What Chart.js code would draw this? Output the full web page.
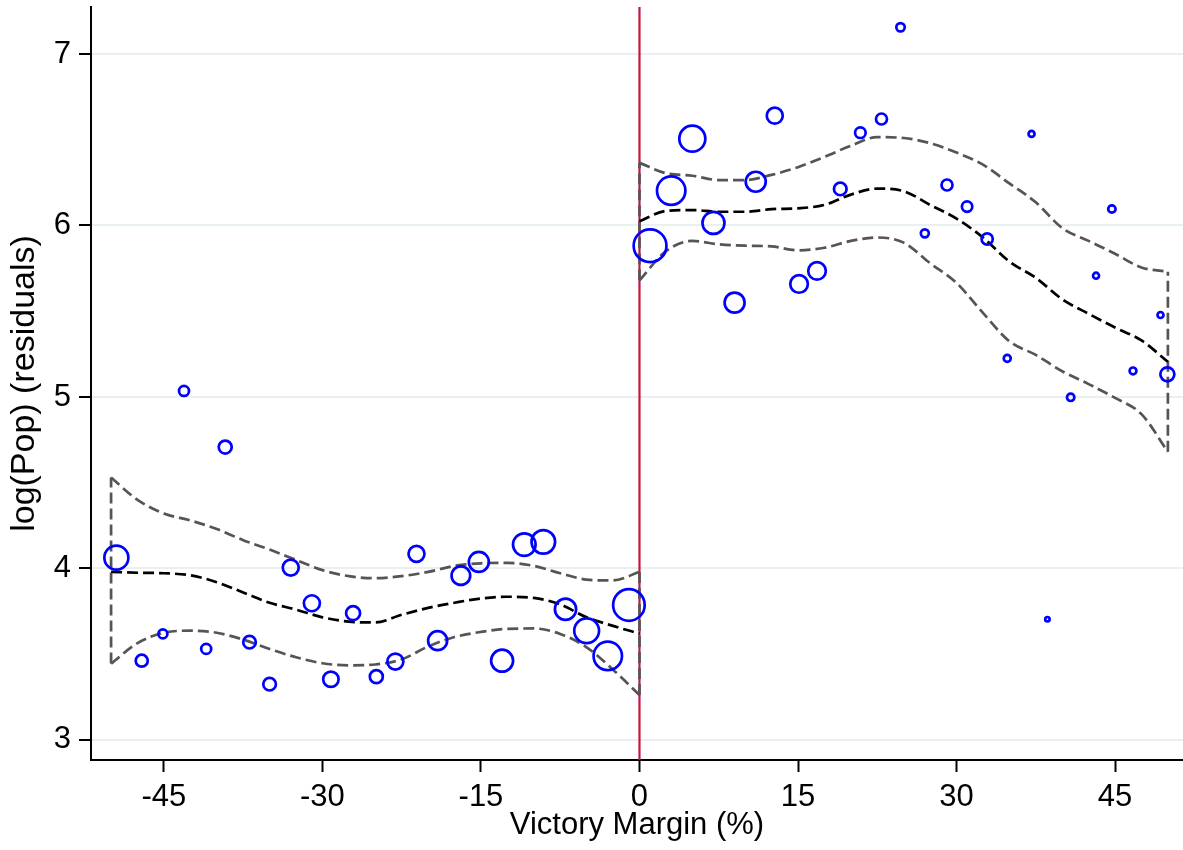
<!DOCTYPE html>
<html>
<head>
<meta charset="utf-8">
<script src="https://cdn.jsdelivr.net/npm/chart.js@4.4.1/dist/chart.umd.min.js"></script>
<style>
  html, body { margin: 0; padding: 0; background: #fff; }
  canvas { display: block; }
</style>
</head>
<body>
<canvas id="rdplot" width="1183" height="850"></canvas>
<script>
// binned means: victory margin (%), log(Pop) residual, marker radius (bin weight)
const binX = [-49.5, -47.1, -45.1, -43.1, -41.0, -39.2, -36.9, -35.0, -33.0, -31.0,
  -29.2, -27.1, -24.9, -23.1, -21.1, -19.1, -16.9, -15.2, -13.0, -10.9,
  -9.1, -7.0, -5.0, -3.0, -1.0,
  1.0, 3.0, 5.0, 7.0, 9.0, 11.0, 12.8, 15.1, 16.8, 19.0,
  20.9, 22.9, 24.7, 27.0, 29.1, 31.0, 32.9, 34.8, 37.1, 38.6,
  40.8, 43.2, 44.7, 46.7, 49.3, 49.95];
const binY = [4.063, 3.462, 3.618, 5.035, 3.531, 4.708, 3.570, 3.325, 4.005, 3.797,
  3.354, 3.739, 3.369, 3.457, 4.085, 3.579, 3.958, 4.038, 3.462, 4.139,
  4.155, 3.762, 3.637, 3.490, 3.787,
  5.882, 6.203, 6.506, 6.015, 5.550, 6.255, 6.640, 5.659, 5.735, 6.213,
  6.541, 6.621, 7.156, 5.954, 6.236, 6.110, 5.921, 5.225, 6.534, 3.704,
  4.998, 5.707, 6.096, 5.152, 5.478, 5.132];
const binR = [12, 6, 4.5, 5, 5, 6.5, 6.3, 6.3, 8, 8,
  7.7, 7, 6.5, 8, 8, 9.5, 9.3, 10, 11, 11.3,
  11.8, 10.6, 12.4, 14.2, 15.8,
  16.4, 14.2, 13, 11, 10, 10, 8, 8.8, 8.8, 6.3,
  5.3, 5.5, 4.2, 4, 5.5, 5.2, 5.6, 3.5, 3, 2.2,
  3.7, 3, 3.7, 3.4, 3, 7];

// local fit with 95% band, left of the cutoff
const leftX = [-50, -47.5, -45, -42.5, -40, -37.5, -35, -32.5, -30, -27.5, -25,
  -22.5, -20, -17.5, -15, -12.5, -10, -7.5, -5, -2.5, 0];
const leftFit = [3.98, 3.975, 3.972, 3.96, 3.92, 3.86, 3.80, 3.76, 3.715, 3.69, 3.685,
  3.73, 3.77, 3.80, 3.825, 3.835, 3.828, 3.79, 3.715, 3.665, 3.62];
const leftHi = [4.53, 4.40, 4.32, 4.28, 4.23, 4.165, 4.11, 4.05, 3.99, 3.955, 3.943,
  3.955, 3.98, 4.015, 4.03, 4.033, 4.015, 3.972, 3.935, 3.93, 3.98];
const leftLo = [3.445, 3.565, 3.625, 3.637, 3.625, 3.585, 3.53, 3.482, 3.447, 3.435, 3.44,
  3.47, 3.545, 3.60, 3.63, 3.648, 3.65, 3.618, 3.54, 3.41, 3.262];

// right of the cutoff
const rightX = [0, 2.5, 5, 7.5, 10, 12.5, 15, 17.5, 20, 22.5, 25,
  27.5, 30, 32.5, 35, 37.5, 40, 42.5, 45, 47.5, 50];
const rightFit = [6.025, 6.085, 6.09, 6.08, 6.08, 6.095, 6.10, 6.12, 6.18, 6.215, 6.20,
  6.12, 6.04, 5.93, 5.79, 5.695, 5.57, 5.485, 5.405, 5.33, 5.205];
const rightHi = [6.365, 6.305, 6.29, 6.265, 6.265, 6.295, 6.34, 6.40, 6.465, 6.515, 6.51,
  6.48, 6.425, 6.355, 6.245, 6.135, 5.985, 5.91, 5.835, 5.755, 5.73];
const rightLo = [5.68, 5.85, 5.91, 5.89, 5.882, 5.878, 5.855, 5.87, 5.91, 5.93, 5.90,
  5.78, 5.665, 5.49, 5.325, 5.245, 5.15, 5.075, 4.995, 4.90, 4.68];

const xTicks = [-45, -30, -15, 0, 15, 30, 45];
const yTicks = [3, 4, 5, 6, 7];
const cutoff = 0;
const xRange = [-51.9, 51.43];
const yRange = [2.883, 7.274];

const FONT = 'Liberation Sans, Arial, Helvetica, sans-serif';

const pts = (xs, ys) => xs.map((x, i) => ({ x: x, y: ys[i] }));
const edge = (x, a, b) => [{ x: x, y: a }, { x: x, y: b }];
const last = a => a[a.length - 1];

const dashed = (data, color, order, smooth) => ({
  data: data,
  showLine: true,
  pointRadius: 0,
  borderColor: color,
  borderWidth: 2.7,
  borderDash: [11, 5],
  cubicInterpolationMode: smooth ? 'monotone' : 'default',
  fill: false,
  order: order,
});

const ciColor = '#555555';

const datasets = [
  {
    type: 'bubble',
    data: binX.map((x, i) => ({ x: x, y: binY[i], r: binR[i] })),
    backgroundColor: 'rgba(0,0,0,0)',
    borderColor: '#0000ff',
    borderWidth: 2.7,
    order: 0,
  },
  dashed(pts(leftX, leftFit), '#000000', 3, true),
  dashed(pts(rightX, rightFit), '#000000', 3, true),
  dashed(pts(leftX, leftHi), ciColor, 4, true),
  dashed(pts(leftX, leftLo), ciColor, 4, true),
  dashed(pts(rightX, rightHi), ciColor, 4, true),
  dashed(pts(rightX, rightLo), ciColor, 4, true),
  dashed(edge(leftX[0], leftLo[0], leftHi[0]), ciColor, 4, false),
  dashed(edge(last(leftX), last(leftLo), last(leftHi)), ciColor, 4, false),
  dashed(edge(rightX[0], rightLo[0], rightHi[0]), ciColor, 4, false),
  dashed(edge(last(rightX), last(rightLo), last(rightHi)), ciColor, 4, false),
  {
    data: edge(cutoff, yRange[0], yRange[1]),
    showLine: true,
    pointRadius: 0,
    borderColor: '#c8143c',
    borderWidth: 2.2,
    order: 10,
  },
];

new Chart(document.getElementById('rdplot').getContext('2d'), {
  type: 'scatter',
  data: { datasets: datasets },
  options: {
    responsive: false,
    animation: false,
    layout: { autoPadding: false, padding: { top: 7, right: 0, bottom: 0, left: 0 } },
    plugins: {
      legend: { display: false },
      tooltip: { enabled: false },
    },
    scales: {
      x: {
        type: 'linear',
        min: xRange[0],
        max: xRange[1],
        afterBuildTicks: s => { s.ticks = xTicks.map(v => ({ value: v })); },
        afterFit: s => { s.height = 90; s.paddingLeft = 0; s.paddingRight = 0; },
        ticks: {
          color: '#000',
          padding: 7,
          maxRotation: 0,
          font: { family: FONT, size: 31 },
          callback: v => String(v),
        },
        grid: {
          drawOnChartArea: false,
          drawTicks: true,
          tickLength: 12,
          tickColor: '#000',
          tickWidth: 2,
        },
        border: { display: true, color: '#000', width: 2 },
        title: {
          display: true,
          text: 'Victory Margin (%)',
          color: '#000',
          font: { family: FONT, size: 31, lineHeight: 1 },
          padding: { top: 0, bottom: 9 },
        },
      },
      y: {
        type: 'linear',
        min: yRange[0],
        max: yRange[1],
        afterBuildTicks: s => { s.ticks = yTicks.map(v => ({ value: v })); },
        afterFit: s => { s.width = 91; s.paddingTop = 0; s.paddingBottom = 0; },
        ticks: {
          color: '#000',
          padding: 8,
          font: { family: FONT, size: 31 },
          callback: v => String(v),
        },
        grid: {
          color: '#e8f0f2',
          lineWidth: 2,
          drawTicks: true,
          tickLength: 12,
          tickColor: '#000',
          tickWidth: 2,
        },
        border: { display: true, color: '#000', width: 2 },
        title: {
          display: true,
          text: 'log(Pop) (residuals)',
          color: '#000',
          font: { family: FONT, size: 34, lineHeight: 1 },
          padding: { top: 8, bottom: 0 },
        },
      },
    },
  },
});
</script>
</body>
</html>
